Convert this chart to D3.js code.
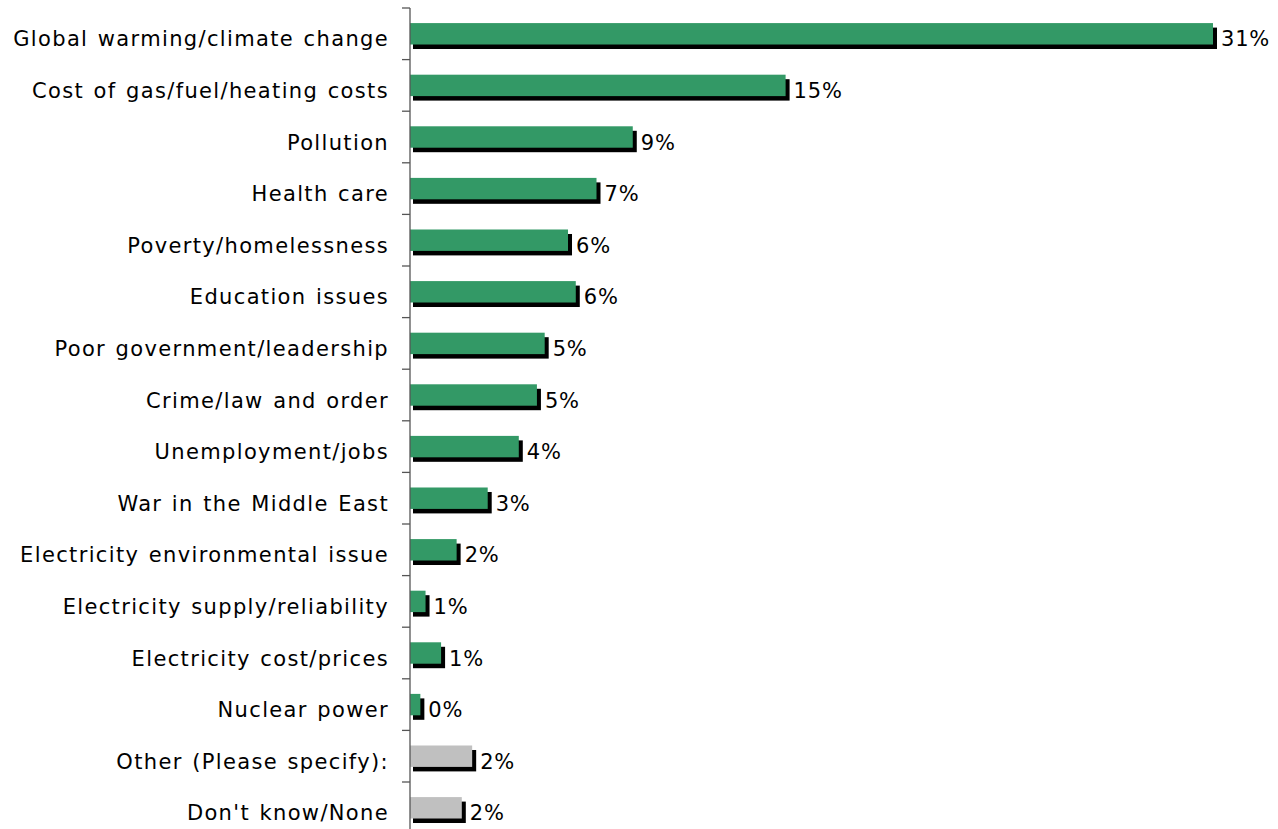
<!DOCTYPE html>
<html>
<head>
<meta charset="utf-8">
<script src="https://cdn.jsdelivr.net/npm/d3@7"></script>
<style>
  body { margin: 0; background: #fff; }
  text { font-family: "DejaVu Sans", Verdana, sans-serif; fill: #000; }
</style>
</head>
<body>
<div id="chart"></div>
<script>
// categories top to bottom
var categories = [
  "Global warming/climate change",
  "Cost of gas/fuel/heating costs",
  "Pollution",
  "Health care",
  "Poverty/homelessness",
  "Education issues",
  "Poor government/leadership",
  "Crime/law and order",
  "Unemployment/jobs",
  "War in the Middle East",
  "Electricity environmental issue",
  "Electricity supply/reliability",
  "Electricity cost/prices",
  "Nuclear power",
  "Other (Please specify):",
  "Don't know/None"
];
// percent values (bar lengths)
var values = [31.0, 14.5, 8.6, 7.2, 6.1, 6.4, 5.2, 4.9, 4.2, 3.0, 1.8, 0.6, 1.2, 0.4, 2.4, 2.0];
var valueLabels = ["31%", "15%", "9%", "7%", "6%", "6%", "5%", "5%", "4%", "3%", "2%", "1%", "1%", "0%", "2%", "2%"];
// "main" answers are green, other/don't know are grey
var groups = ["main", "main", "main", "main", "main", "main", "main", "main", "main", "main", "main", "main", "main", "main", "other", "other"];

var svgWidth = 1278;
var svgHeight = 829;
var margin = { top: 8, right: 65, bottom: 0, left: 410 };
var step = 51.6;
var height = step * categories.length;

var svg = d3.select("#chart")
  .append("svg")
  .attr("width", svgWidth)
  .attr("height", svgHeight);

var chartGroup = svg.append("g")
  .attr("transform", `translate(${margin.left}, ${margin.top})`);

var x = d3.scaleLinear()
  .domain([0, 31])
  .range([0, 803]);

var y = d3.scaleBand()
  .domain(categories)
  .range([0, height])
  .paddingInner(0.585)
  .paddingOuter(0.2925);

var color = d3.scaleOrdinal()
  .domain(["main", "other"])
  .range(["#339966", "#c0c0c0"]);

var data = categories.map(function(c, i) {
  return { cat: c, value: values[i], label: valueLabels[i], group: groups[i] };
});

// shadows first so the bars sit on top
chartGroup.selectAll(".shadow")
  .data(data)
  .enter()
  .append("rect")
  .attr("class", "shadow")
  .attr("x", 3)
  .attr("y", d => y(d.cat) + 4.5)
  .attr("width", d => x(d.value) + 1)
  .attr("height", y.bandwidth())
  .attr("fill", "#000");

chartGroup.selectAll(".bar")
  .data(data)
  .enter()
  .append("rect")
  .attr("class", "bar")
  .attr("x", 0)
  .attr("y", d => y(d.cat))
  .attr("width", d => x(d.value))
  .attr("height", y.bandwidth())
  .attr("fill", d => color(d.group));

// value labels
chartGroup.selectAll(".val")
  .data(data)
  .enter()
  .append("text")
  .attr("class", "val")
  .attr("x", d => x(d.value) + 8)
  .attr("y", d => y(d.cat) + y.bandwidth() / 2 + 12.5)
  .style("font-size", "21px")
  .style("letter-spacing", "0.8px")
  .text(d => d.label);

// y axis line with ticks between categories
var axis = chartGroup.append("g");
axis.append("line")
  .attr("x1", 0).attr("x2", 0)
  .attr("y1", 0).attr("y2", height + 10)
  .attr("stroke", "#555")
  .attr("stroke-width", 1.3);

var tickYs = d3.range(categories.length + 1).map(i => i * step);
axis.selectAll(".tick")
  .data(tickYs)
  .enter()
  .append("line")
  .attr("x1", -8).attr("x2", 0)
  .attr("y1", d => d).attr("y2", d => d)
  .attr("stroke", "#555")
  .attr("stroke-width", 1.3);

// category labels
axis.selectAll(".cat")
  .data(data)
  .enter()
  .append("text")
  .attr("class", "cat")
  .attr("x", -21)
  .attr("y", d => y(d.cat) + y.bandwidth() / 2 + 12.5)
  .attr("text-anchor", "end")
  .style("font-size", "21px")
  .style("letter-spacing", "1.35px")
  .style("word-spacing", "1.5px")
  .text(d => d.cat);
</script>
</body>
</html>
